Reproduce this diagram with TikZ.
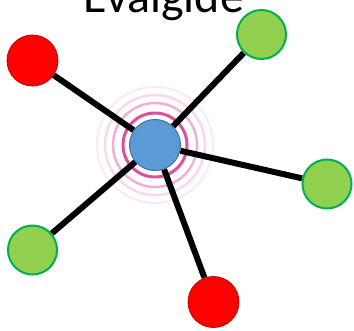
\documentclass[tikz,border=0pt]{standalone}
\usepackage{fontspec}
\setmainfont{Carlito}
\usetikzlibrary{backgrounds}

\definecolor{nodered}{HTML}{FF0000}
\definecolor{nodereddark}{HTML}{C00000}
\definecolor{nodegreen}{HTML}{92D050}
\definecolor{nodegreendark}{HTML}{00B050}
\definecolor{hubblue}{HTML}{5B9BD5}
\definecolor{hubbluedark}{HTML}{41719C}
\definecolor{ringpink}{HTML}{E0509A}

\tikzset{
  rednode/.style={circle, inner sep=0pt, minimum size=51pt, fill=nodered, draw=nodereddark, line width=0.8pt},
  greennode/.style={circle, inner sep=0pt, minimum size=49pt, fill=nodegreen, draw=nodegreendark, line width=2pt},
  hubnode/.style={circle, inner sep=0pt, minimum size=51pt, fill=hubblue, draw=hubbluedark, line width=1pt},
  spoke/.style={line width=6pt, black}
}

\begin{document}
\begin{tikzpicture}[x=1pt, y=-1pt]
\useasboundingbox (0, 0) rectangle (354, 330);
\node[anchor=base, font=\fontsize{48}{48}\selectfont] (title) at (164, 12) {Evalgide}; % Title
\node[hubnode] (hub) at (155, 145) {}; % Hub.0
\node[rednode] (red1) at (32.5, 60.5) {}; % Red.0
\node[greennode] (green1) at (261.5, 34.5) {}; % Green.0
\node[greennode] (green2) at (327, 184) {}; % Green.1
\node[greennode] (green3) at (32.5, 250) {}; % Green.2
\node[rednode] (red2) at (213.5, 302) {}; % Red.1
\begin{scope}[on background layer]
\draw[ringpink!12, line width=2pt] (hub.center) circle (58) ; % Ring.3
\draw[ringpink!22, line width=2.5pt] (hub.center) circle (50) ; % Ring.2
\draw[ringpink!45, line width=2.5pt] (hub.center) circle (42) ; % Ring.1
\draw[ringpink, line width=3pt] (hub.center) circle (32) ; % Ring.0
\draw[spoke] (hub) -- (red1) ; % Spoke.0
\draw[spoke] (hub) -- (green1) ; % Spoke.1
\draw[spoke] (hub) -- (green2) ; % Spoke.2
\draw[spoke] (hub) -- (green3) ; % Spoke.3
\draw[spoke] (hub) -- (red2) ; % Spoke.4
\end{scope}
\end{tikzpicture}
\end{document}
